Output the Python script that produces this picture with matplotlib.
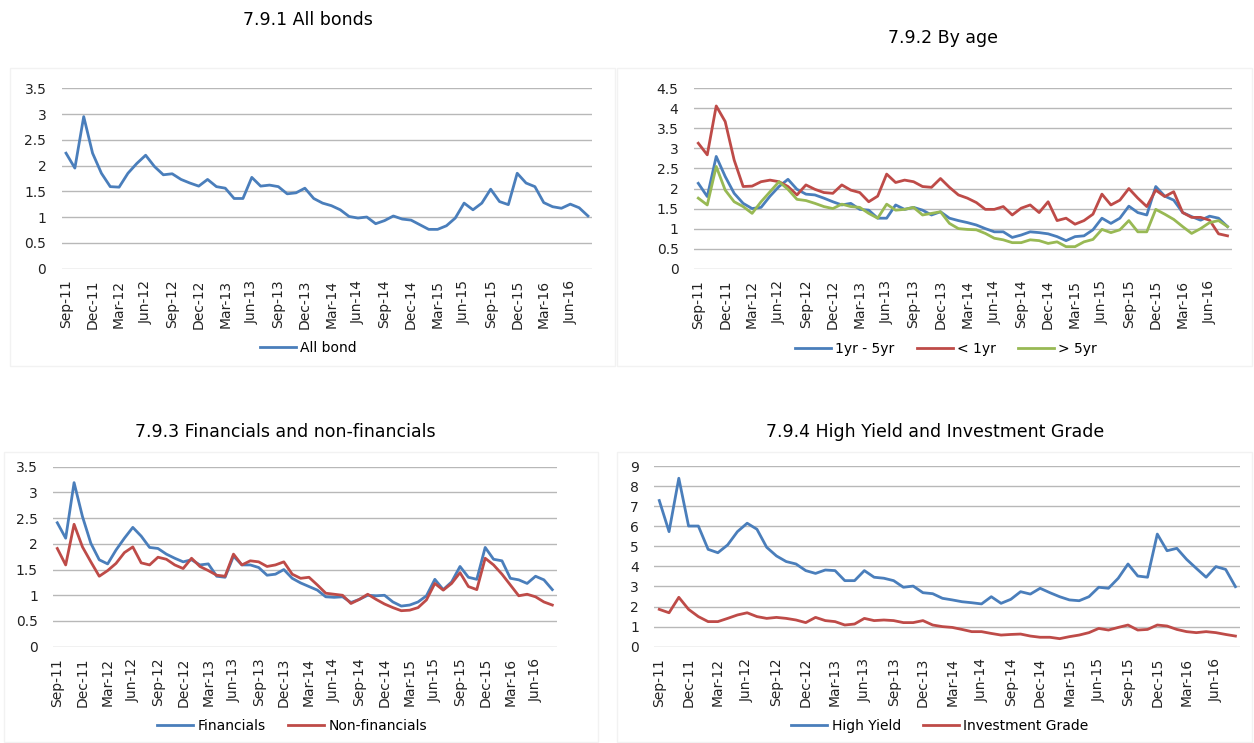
import matplotlib.pyplot as plt
import numpy as np
from matplotlib.ticker import FuncFormatter
from matplotlib.patches import Rectangle

# tick labels, one every three months from Sep-11 (data runs Sep-11 .. Aug-16)
tick_labels = ["Sep-11", "Dec-11", "Mar-12", "Jun-12", "Sep-12", "Dec-12", "Mar-13",
               "Jun-13", "Sep-13", "Dec-13", "Mar-14", "Jun-14", "Sep-14", "Dec-14",
               "Mar-15", "Jun-15", "Sep-15", "Dec-15", "Mar-16", "Jun-16"]

# 7.9.1 All bonds
all_bond = [2.24, 1.95, 2.95, 2.24, 1.85, 1.59, 1.58, 1.85, 2.04, 2.2,
            1.98, 1.82, 1.84, 1.73, 1.66, 1.6, 1.73, 1.59, 1.56, 1.36,
            1.36, 1.77, 1.6, 1.62, 1.59, 1.45, 1.47, 1.56, 1.36, 1.27,
            1.22, 1.14, 1.01, 0.98, 1.0, 0.87, 0.93, 1.02, 0.96, 0.94,
            0.85, 0.76, 0.76, 0.83, 0.98, 1.27, 1.14, 1.27, 1.54, 1.3,
            1.24, 1.85, 1.66, 1.59, 1.28, 1.2, 1.17, 1.25, 1.18, 1.02]

# 7.9.2 By age
age_1_5 = [2.13, 1.8, 2.8, 2.3, 1.88, 1.63, 1.5, 1.53, 1.81, 2.05,
           2.23, 1.98, 1.86, 1.84, 1.76, 1.67, 1.59, 1.63, 1.48, 1.46,
           1.26, 1.26, 1.59, 1.48, 1.53, 1.46, 1.34, 1.42, 1.26, 1.2,
           1.15, 1.09, 1.0, 0.92, 0.92, 0.78, 0.84, 0.92, 0.9, 0.87,
           0.8, 0.7, 0.8, 0.82, 0.97, 1.26, 1.13, 1.26, 1.56, 1.4,
           1.34, 2.05, 1.81, 1.71, 1.4, 1.3, 1.21, 1.31, 1.26, 1.05]
age_lt_1 = [3.13, 2.84, 4.06, 3.67, 2.71, 2.05, 2.06, 2.17, 2.21, 2.17,
            2.05, 1.84, 2.09, 1.98, 1.9, 1.88, 2.09, 1.96, 1.9, 1.67,
            1.81, 2.36, 2.15, 2.21, 2.17, 2.05, 2.03, 2.25, 2.03, 1.84,
            1.76, 1.65, 1.48, 1.48, 1.55, 1.34, 1.51, 1.59, 1.4, 1.67,
            1.2, 1.26, 1.11, 1.2, 1.36, 1.86, 1.59, 1.71, 2.0, 1.76,
            1.55, 1.96, 1.8, 1.92, 1.4, 1.28, 1.28, 1.21, 0.87, 0.82]
age_gt_5 = [1.76, 1.59, 2.55, 1.96, 1.67, 1.55, 1.38, 1.67, 1.92, 2.17,
            1.98, 1.73, 1.7, 1.63, 1.55, 1.5, 1.61, 1.55, 1.53, 1.38,
            1.26, 1.61, 1.46, 1.48, 1.53, 1.34, 1.38, 1.42, 1.13, 1.0,
            0.98, 0.97, 0.88, 0.76, 0.72, 0.65, 0.65, 0.72, 0.7, 0.63,
            0.67, 0.55, 0.55, 0.67, 0.73, 0.98, 0.9, 0.97, 1.2, 0.92,
            0.92, 1.48, 1.36, 1.23, 1.05, 0.88, 1.0, 1.15, 1.2, 1.05]

# 7.9.3 Financials and non-financials
financials = [2.41, 2.11, 3.19, 2.53, 2.01, 1.69, 1.61, 1.88, 2.11, 2.32,
              2.15, 1.93, 1.91, 1.8, 1.72, 1.65, 1.69, 1.59, 1.61, 1.37,
              1.35, 1.76, 1.59, 1.59, 1.54, 1.39, 1.41, 1.5, 1.33, 1.24,
              1.17, 1.1, 0.97, 0.96, 0.97, 0.86, 0.92, 1.0, 0.99, 1.0,
              0.87, 0.79, 0.81, 0.87, 0.99, 1.31, 1.11, 1.26, 1.56, 1.35,
              1.31, 1.93, 1.7, 1.67, 1.33, 1.3, 1.23, 1.37, 1.3, 1.11]
non_financials = [1.91, 1.59, 2.38, 1.94, 1.65, 1.37, 1.48, 1.62, 1.83, 1.94,
                  1.63, 1.59, 1.74, 1.7, 1.59, 1.52, 1.72, 1.56, 1.48, 1.39,
                  1.37, 1.8, 1.59, 1.67, 1.65, 1.56, 1.59, 1.65, 1.41, 1.33,
                  1.35, 1.2, 1.04, 1.02, 1.0, 0.84, 0.92, 1.02, 0.92, 0.83,
                  0.76, 0.7, 0.71, 0.76, 0.91, 1.23, 1.1, 1.23, 1.44, 1.17,
                  1.11, 1.72, 1.59, 1.41, 1.2, 0.99, 1.02, 0.97, 0.87, 0.81]

# 7.9.4 High Yield and Investment Grade
high_yield = [7.28, 5.73, 8.39, 6.01, 6.01, 4.85, 4.68, 5.07, 5.73, 6.15,
              5.85, 4.95, 4.52, 4.24, 4.12, 3.79, 3.65, 3.82, 3.79, 3.29,
              3.29, 3.79, 3.46, 3.41, 3.29, 2.96, 3.02, 2.69, 2.64, 2.41,
              2.33, 2.24, 2.19, 2.13, 2.49, 2.16, 2.36, 2.74, 2.62, 2.91,
              2.69, 2.49, 2.33, 2.29, 2.49, 2.96, 2.91, 3.41, 4.12, 3.52,
              3.46, 5.61, 4.78, 4.9, 4.35, 3.9, 3.46, 3.99, 3.85, 2.99]
investment_grade = [1.86, 1.69, 2.46, 1.86, 1.5, 1.25, 1.25, 1.41, 1.58, 1.69,
                    1.5, 1.41, 1.46, 1.41, 1.33, 1.2, 1.46, 1.3, 1.25, 1.08,
                    1.13, 1.41, 1.3, 1.33, 1.3, 1.2, 1.2, 1.3, 1.08, 1.0,
                    0.96, 0.86, 0.75, 0.75, 0.66, 0.58, 0.61, 0.63, 0.53, 0.47,
                    0.47, 0.4, 0.5, 0.58, 0.7, 0.91, 0.83, 0.96, 1.08, 0.83,
                    0.86, 1.08, 1.03, 0.86, 0.75, 0.7, 0.75, 0.7, 0.61, 0.53]

BLUE = "#4a7ebb"
RED = "#be4b48"
GREEN = "#98b954"
GRID = "#b8b8b8"

W, H = 1254, 743
fig = plt.figure(figsize=(W / 100, H / 100), dpi=100)
fig.patch.set_facecolor("white")


def px_axes(left, top, right, bottom):
    return fig.add_axes([left / W, 1 - bottom / H, (right - left) / W, (bottom - top) / H])


def style(ax, n, ymax, step):
    ax.set_xlim(-0.5, n - 0.5)
    ax.set_ylim(0, ymax)
    ax.set_yticks(np.arange(0, ymax + step / 2, step))
    ax.yaxis.set_major_formatter(FuncFormatter(lambda v, p: "%g" % v))
    ax.set_xticks(np.arange(0, len(tick_labels) * 3, 3))
    ax.set_xticklabels(tick_labels, rotation=90)
    ax.tick_params(axis="both", length=0, labelsize=10, colors="#222222")
    ax.tick_params(axis="y", pad=11)
    ax.tick_params(axis="x", pad=8)
    for s in ax.spines.values():
        s.set_visible(False)
    ax.grid(axis="y", color=GRID, linewidth=1)
    ax.set_axisbelow(True)


def frame(left, top, right, bottom):
    fig.patches.append(Rectangle((left / W, 1 - bottom / H), (right - left) / W,
                                 (bottom - top) / H, transform=fig.transFigure,
                                 fill=False, edgecolor="#f2f2f2", linewidth=1))


def legend(ax, cx, cy, ncol):
    ax.legend(loc="center", bbox_to_anchor=(cx / W, 1 - cy / H),
              bbox_transform=fig.transFigure, ncol=ncol, frameon=False,
              fontsize=10, handlelength=2.6, columnspacing=1.6, handletextpad=0.3)


x = np.arange(len(all_bond))

frame(10, 68, 615, 366)
frame(617, 68, 1252, 366)
frame(4, 452, 598, 742)
frame(617, 452, 1252, 742)

# 7.9.1
ax1 = px_axes(61.6, 88.3, 592.4, 268.5)
ax1.plot(x, all_bond, color=BLUE, lw=2, label="All bond")
style(ax1, len(x), 3.5, 0.5)
legend(ax1, 308, 348, 1)
fig.text(308 / W, 1 - 20 / H, "7.9.1 All bonds", ha="center", va="center", fontsize=12.5)

# 7.9.2
ax2 = px_axes(693.8, 88.3, 1232, 268.7)
ax2.plot(x, age_1_5, color=BLUE, lw=2, label="1yr - 5yr")
ax2.plot(x, age_lt_1, color=RED, lw=2, label="< 1yr")
ax2.plot(x, age_gt_5, color=GREEN, lw=2, label="> 5yr")
style(ax2, len(x), 4.5, 0.5)
legend(ax2, 946, 349, 3)
fig.text(943 / W, 1 - 38 / H, "7.9.2 By age", ha="center", va="center", fontsize=12.5)

# 7.9.3
ax3 = px_axes(53.1, 466.7, 556.5, 646.7)
ax3.plot(x, financials, color=BLUE, lw=2, label="Financials")
ax3.plot(x, non_financials, color=RED, lw=2, label="Non-financials")
style(ax3, len(x), 3.5, 0.5)
legend(ax3, 292, 726, 2)
fig.text(285 / W, 1 - 432 / H, "7.9.3 Financials and non-financials", ha="center",
         va="center", fontsize=12.5)

# 7.9.4
ax4 = px_axes(654.4, 466, 1240.3, 646.7)
ax4.plot(x, high_yield, color=BLUE, lw=2, label="High Yield")
ax4.plot(x, investment_grade, color=RED, lw=2, label="Investment Grade")
style(ax4, len(x), 9, 1)
legend(ax4, 940, 726, 2)
fig.text(935 / W, 1 - 432 / H, "7.9.4 High Yield and Investment Grade", ha="center",
         va="center", fontsize=12.5)

fig.savefig("out.png", dpi=100)
